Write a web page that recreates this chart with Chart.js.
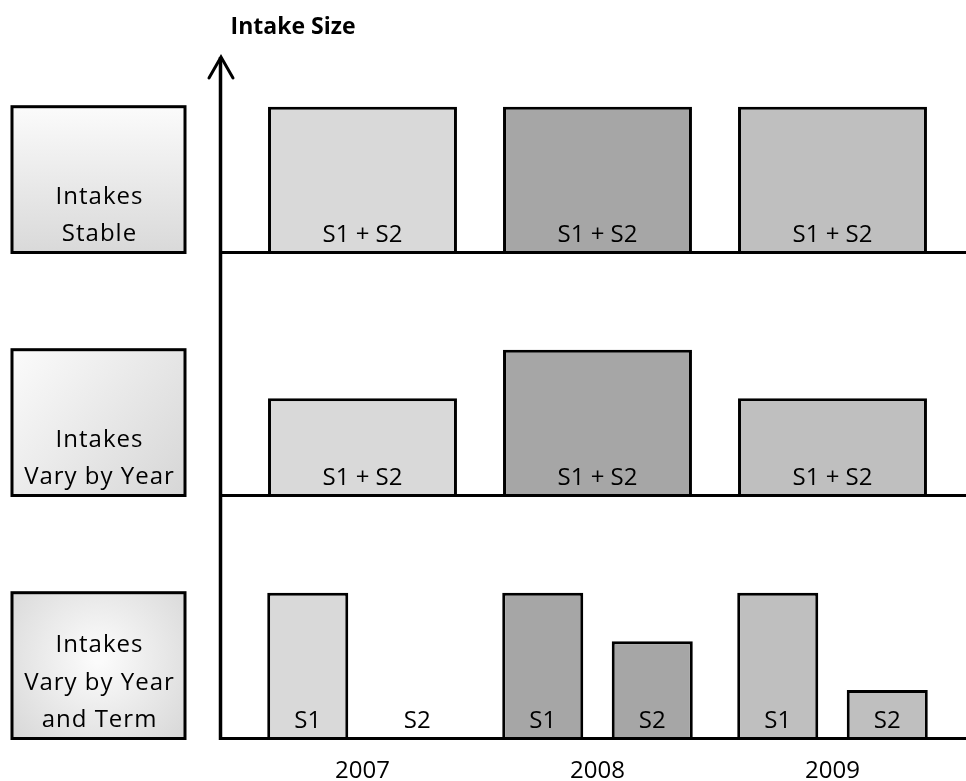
<!DOCTYPE html>
<html>
<head>
<meta charset="utf-8">
<script src="https://cdn.jsdelivr.net/npm/chart.js@4/dist/chart.umd.min.js"></script>
<style>
  html, body { margin: 0; padding: 0; background: #ffffff; }
  #wrap { width: 966px; height: 781px; }
</style>
</head>
<body>
<div id="wrap"><canvas id="c" width="966" height="781"></canvas></div>
<script>
// ---- data ----
const years = ['2007', '2008', '2009'];
const stableIntake = [3, 3, 3];           // S1 + S2 combined, stable
const yearlyIntake = [2, 3, 2];           // S1 + S2 combined, varies by year
const termS1Intake = [3, 3, 3];           // semester 1
const termS2Intake = [0, 2, 1];           // semester 2
const rowTitles = [
  ['Intakes', 'Stable'],
  ['Intakes', 'Vary by Year'],
  ['Intakes', 'Vary by Year', 'and Term']
];
const combinedLabel = 'S1 + S2';
const termLabels = ['S1', 'S2'];
const axisTitle = 'Intake Size';

// ---- styles ----
const yearColors = ['#d9d9d9', '#a6a6a6', '#bfbfbf'];
const FONT = "'Open Sans', 'DejaVu Sans', sans-serif";

const barBase = {
  backgroundColor: yearColors,
  borderColor: '#000000',
  borderWidth: 3,
  borderSkipped: 'start'
};

const rowScaleIds = ['yStable', 'yYear', 'yTerm'];

const decorPlugin = {
  id: 'decor',
  afterDatasetsDraw(chart) {
    const ctx = chart.ctx;
    ctx.save();
    // bar labels
    ctx.fillStyle = '#000';
    ctx.font = '24px ' + FONT;
    ctx.textAlign = 'center';
    ctx.textBaseline = 'middle';
    chart.data.datasets.forEach((ds, di) => {
      const meta = chart.getDatasetMeta(di);
      meta.data.forEach((el) => {
        const p = el.getProps(['x', 'base'], true);
        ctx.fillText(ds.barText, p.x, p.base - 17.5);
      });
    });

    // baselines for each row
    ctx.strokeStyle = '#000';
    ctx.lineWidth = 3;
    rowScaleIds.forEach(id => {
      const s = chart.scales[id];
      const y = s.getPixelForValue(0);
      ctx.beginPath();
      ctx.moveTo(219, y);
      ctx.lineTo(966, y);
      ctx.stroke();
    });

    // vertical axis with arrow
    const yBottom = chart.scales.yTerm.getPixelForValue(0) + 1.5;
    ctx.lineWidth = 3.5;
    ctx.beginPath();
    ctx.moveTo(220.5, yBottom);
    ctx.lineTo(220.5, 57);
    ctx.stroke();
    ctx.lineWidth = 3;
    ctx.lineCap = 'round';
    ctx.lineJoin = 'miter';
    ctx.beginPath();
    ctx.moveTo(209, 78);
    ctx.lineTo(221, 57);
    ctx.lineTo(233, 78);
    ctx.stroke();
    ctx.lineCap = 'butt';

    // axis title
    ctx.font = 'bold 23px ' + FONT;
    ctx.textAlign = 'center';
    ctx.fillText(axisTitle, 293, 27);

    // row title boxes
    rowScaleIds.forEach((id, i) => {
      const s = chart.scales[id];
      const top = s.getPixelForValue(3);
      const bottom = s.getPixelForValue(0);
      const left = 12, right = 185;
      const w = right - left, h = bottom - top;
      let g;
      if (i === 2) {
        g = ctx.createRadialGradient(left + w * 0.5, top + h * 0.45, 5, left + w * 0.5, top + h * 0.45, w * 0.7);
        g.addColorStop(0, '#fbfbfb');
        g.addColorStop(1, '#d6d6d6');
      } else if (i === 1) {
        g = ctx.createLinearGradient(left, top, right, bottom);
        g.addColorStop(0, '#fbfbfb');
        g.addColorStop(1, '#d6d6d6');
      } else {
        g = ctx.createLinearGradient(left, top, left, bottom);
        g.addColorStop(0, '#fbfbfb');
        g.addColorStop(1, '#d9d9d9');
      }
      ctx.fillStyle = g;
      ctx.fillRect(left, top, w, h);
      ctx.strokeStyle = '#000';
      ctx.lineWidth = 3;
      ctx.strokeRect(left, top, w, h);

      ctx.fillStyle = '#000';
      ctx.font = '24px ' + FONT;
      if ('letterSpacing' in ctx) ctx.letterSpacing = '1px';
      ctx.textAlign = 'center';
      ctx.textBaseline = 'middle';
      const lines = rowTitles[i];
      const n = lines.length;
      lines.forEach((t, k) => {
        const y = bottom - 18 - (n - 1 - k) * 37.5;
        ctx.fillText(t, (left + right) / 2 + 1, y);
      });
      if ('letterSpacing' in ctx) ctx.letterSpacing = '0px';
    });
    ctx.restore();
  }
};

const rowScale = (weight) => ({
  type: 'linear',
  position: 'left',
  stack: 'rows',
  stackWeight: 1,
  weight: weight,
  min: 0,
  max: 5,
  display: false
});

new Chart(document.getElementById('c'), {
  type: 'bar',
  data: {
    labels: years,
    datasets: [
      Object.assign({}, barBase, {
        label: rowTitles[0].join(' '),
        data: stableIntake,
        yAxisID: 'yStable',
        grouped: false,
        categoryPercentage: 1,
        barPercentage: 0.804,
        barText: combinedLabel
      }),
      Object.assign({}, barBase, {
        label: rowTitles[1].join(' '),
        data: yearlyIntake,
        yAxisID: 'yYear',
        grouped: false,
        categoryPercentage: 1,
        barPercentage: 0.804,
        barText: combinedLabel
      }),
      Object.assign({}, barBase, {
        label: termLabels[0],
        data: termS1Intake,
        yAxisID: 'yTerm',
        grouped: true,
        categoryPercentage: 0.932,
        barPercentage: 0.74,
        barText: termLabels[0]
      }),
      Object.assign({}, barBase, {
        label: termLabels[1],
        data: termS2Intake,
        yAxisID: 'yTerm',
        grouped: true,
        categoryPercentage: 0.932,
        barPercentage: 0.74,
        barText: termLabels[1]
      })
    ]
  },
  options: {
    responsive: false,
    animation: false,
    events: [],
    layout: { padding: { left: 245, right: 16, top: 9.5, bottom: -22.5 } },
    plugins: {
      legend: { display: false },
      tooltip: { enabled: false }
    },
    scales: {
      x: {
        type: 'category',
        stacked: false,
        grid: { display: false, drawTicks: false },
        border: { display: false },
        ticks: {
          color: '#000',
          font: { family: FONT, size: 24, lineHeight: 1 },
          padding: 20.5
        }
      },
      yStable: rowScale(3),
      yYear: rowScale(2),
      yTerm: rowScale(1)
    }
  },
  plugins: [decorPlugin]
});
</script>
</body>
</html>
